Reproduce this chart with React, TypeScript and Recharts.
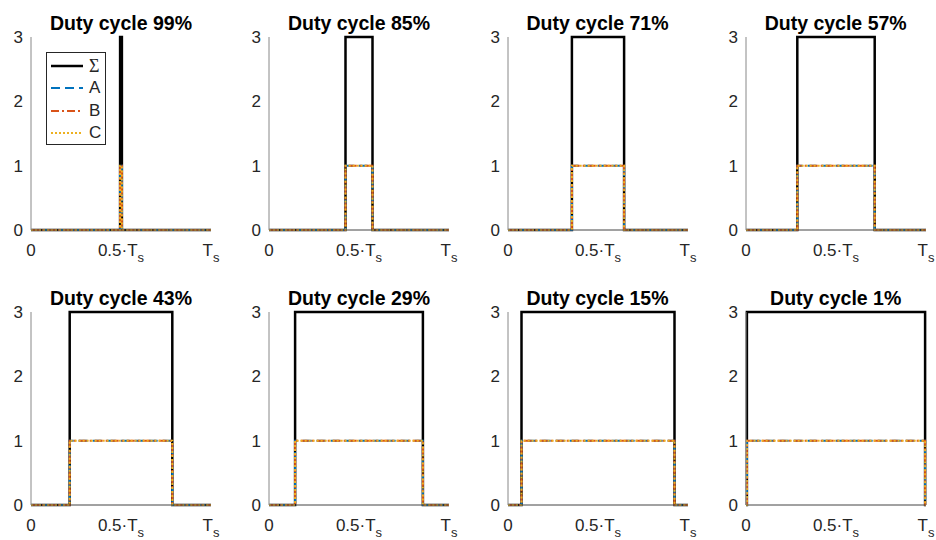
import React from "react";
import { LineChart, Line, XAxis, YAxis } from "recharts";

// one panel per duty cycle; pulse edges (fraction of Ts)
const dutyCycles = [99, 85, 71, 57, 43, 29, 15, 1];
const riseTimes = [0.495, 0.425, 0.355, 0.285, 0.215, 0.145, 0.075, 0.005];
const fallTimes = [0.505, 0.575, 0.645, 0.715, 0.785, 0.855, 0.925, 0.995];
const sumLevel = 3;
const phaseLevel = 1;

const seriesNames = ["Σ", "A", "B", "C"];
const xTicks = [0, 0.5, 1];
const xTickMain = ["0", "0.5·T", "T"];
const xTickSub = ["", "s", "s"];
const yTicks = [0, 1, 2, 3];

const FONT = "'Liberation Sans', Arial, sans-serif";
const TEXT = "#262626";

const colLeft = [31, 269, 507.5, 745.7];
const rowTop = [37, 311.7];
const PLOT_W = 180;
const PLOT_H = 193;
const Y_W = 30;
const M_TOP = 10;
const M_RIGHT = 22;
const X_H = 34;

const styles = [
  { color: "#000000", width: 2.5, dash: undefined },
  { color: "#0072BD", width: 2, dash: "9 5" },
  { color: "#D95319", width: 2, dash: "8 3 2 3" },
  { color: "#EDB120", width: 2, dash: "2 2" },
];

function pulse(rise: number, fall: number, level: number) {
  return [
    { t: 0, v: 0 },
    { t: rise, v: 0 },
    { t: rise, v: level },
    { t: fall, v: level },
    { t: fall, v: 0 },
    { t: 1, v: 0 },
  ];
}

const XTick = (props: any) => {
  const { x, y, payload } = props;
  const i = xTicks.indexOf(payload.value);
  return (
    <text
      x={x}
      y={y + 26}
      textAnchor="middle"
      fill={TEXT}
      fontSize={17}
      fontFamily={FONT}
    >
      <tspan>{xTickMain[i]}</tspan>
      {xTickSub[i] && (
        <tspan dy={6} fontSize={13}>
          {xTickSub[i]}
        </tspan>
      )}
    </text>
  );
};

function Panel({ index }: { index: number }) {
  const left = colLeft[index % 4];
  const top = rowTop[Math.floor(index / 4)];
  const sumData = pulse(riseTimes[index], fallTimes[index], sumLevel);
  const phaseData = pulse(riseTimes[index], fallTimes[index], phaseLevel);

  return (
    <>
      <div
        style={{
          position: "absolute",
          left: left - 20,
          top: top - 25,
          width: PLOT_W + 40,
          textAlign: "center",
          fontWeight: "bold",
          fontSize: 19.5,
          lineHeight: "22px",
          color: "#000",
          whiteSpace: "nowrap",
        }}
      >
        Duty cycle {dutyCycles[index]}%
      </div>
      <div style={{ position: "absolute", left: left - Y_W, top: top - M_TOP }}>
        <LineChart
          width={Y_W + PLOT_W + M_RIGHT}
          height={M_TOP + PLOT_H + X_H}
          margin={{ top: M_TOP, right: M_RIGHT, bottom: 0, left: 0 }}
        >
          <XAxis
            dataKey="t"
            type="number"
            domain={[0, 1]}
            ticks={xTicks}
            interval={0}
            height={X_H}
            tickLine={false}
            tickSize={0}
            tickMargin={0}
            axisLine={{ stroke: "#444" }}
            tick={<XTick />}
          />
          <YAxis
            type="number"
            domain={[0, 3]}
            ticks={yTicks}
            interval={0}
            width={Y_W}
            tickLine={false}
            tickSize={0}
            tickMargin={8}
            axisLine={{ stroke: "#888" }}
            tick={{ fill: TEXT, fontSize: 17, fontFamily: FONT }}
          />
          <Line
            data={sumData}
            dataKey="v"
            type="linear"
            stroke={styles[0].color}
            strokeWidth={styles[0].width}
            dot={false}
            isAnimationActive={false}
          />
          {[1, 2, 3].map((k) => (
            <Line
              key={k}
              data={phaseData}
              dataKey="v"
              type="linear"
              stroke={styles[k].color}
              strokeWidth={styles[k].width}
              strokeDasharray={styles[k].dash}
              dot={false}
              isAnimationActive={false}
            />
          ))}
        </LineChart>
      </div>
    </>
  );
}

function LegendBox() {
  return (
    <div
      style={{
        position: "absolute",
        left: 46,
        top: 52,
        width: 58,
        height: 91,
        border: "1px solid #262626",
        background: "#fff",
      }}
    >
      {seriesNames.map((name, k) => (
        <div
          key={name}
          style={{
            position: "absolute",
            left: 0,
            top: 3 + k * 22.3,
            height: 20,
            display: "flex",
            alignItems: "center",
          }}
        >
          <svg width={40} height={20}>
            <line
              x1={4}
              x2={36}
              y1={10}
              y2={10}
              stroke={styles[k].color}
              strokeWidth={styles[k].width}
              strokeDasharray={styles[k].dash}
            />
          </svg>
          <span
            style={{
              fontSize: k === 0 ? 18 : 17,
              color: TEXT,
              fontFamily: k === 0 ? "'Liberation Serif', serif" : FONT,
              marginLeft: 2,
            }}
          >
            {name}
          </span>
        </div>
      ))}
    </div>
  );
}

export default function App() {
  return (
    <div
      style={{
        position: "absolute",
        left: 0,
        top: 0,
        width: 936,
        height: 540,
        background: "#fff",
        fontFamily: FONT,
        overflow: "hidden",
      }}
    >
      {dutyCycles.map((d, i) => (
        <Panel key={d} index={i} />
      ))}
      <LegendBox />
    </div>
  );
}
